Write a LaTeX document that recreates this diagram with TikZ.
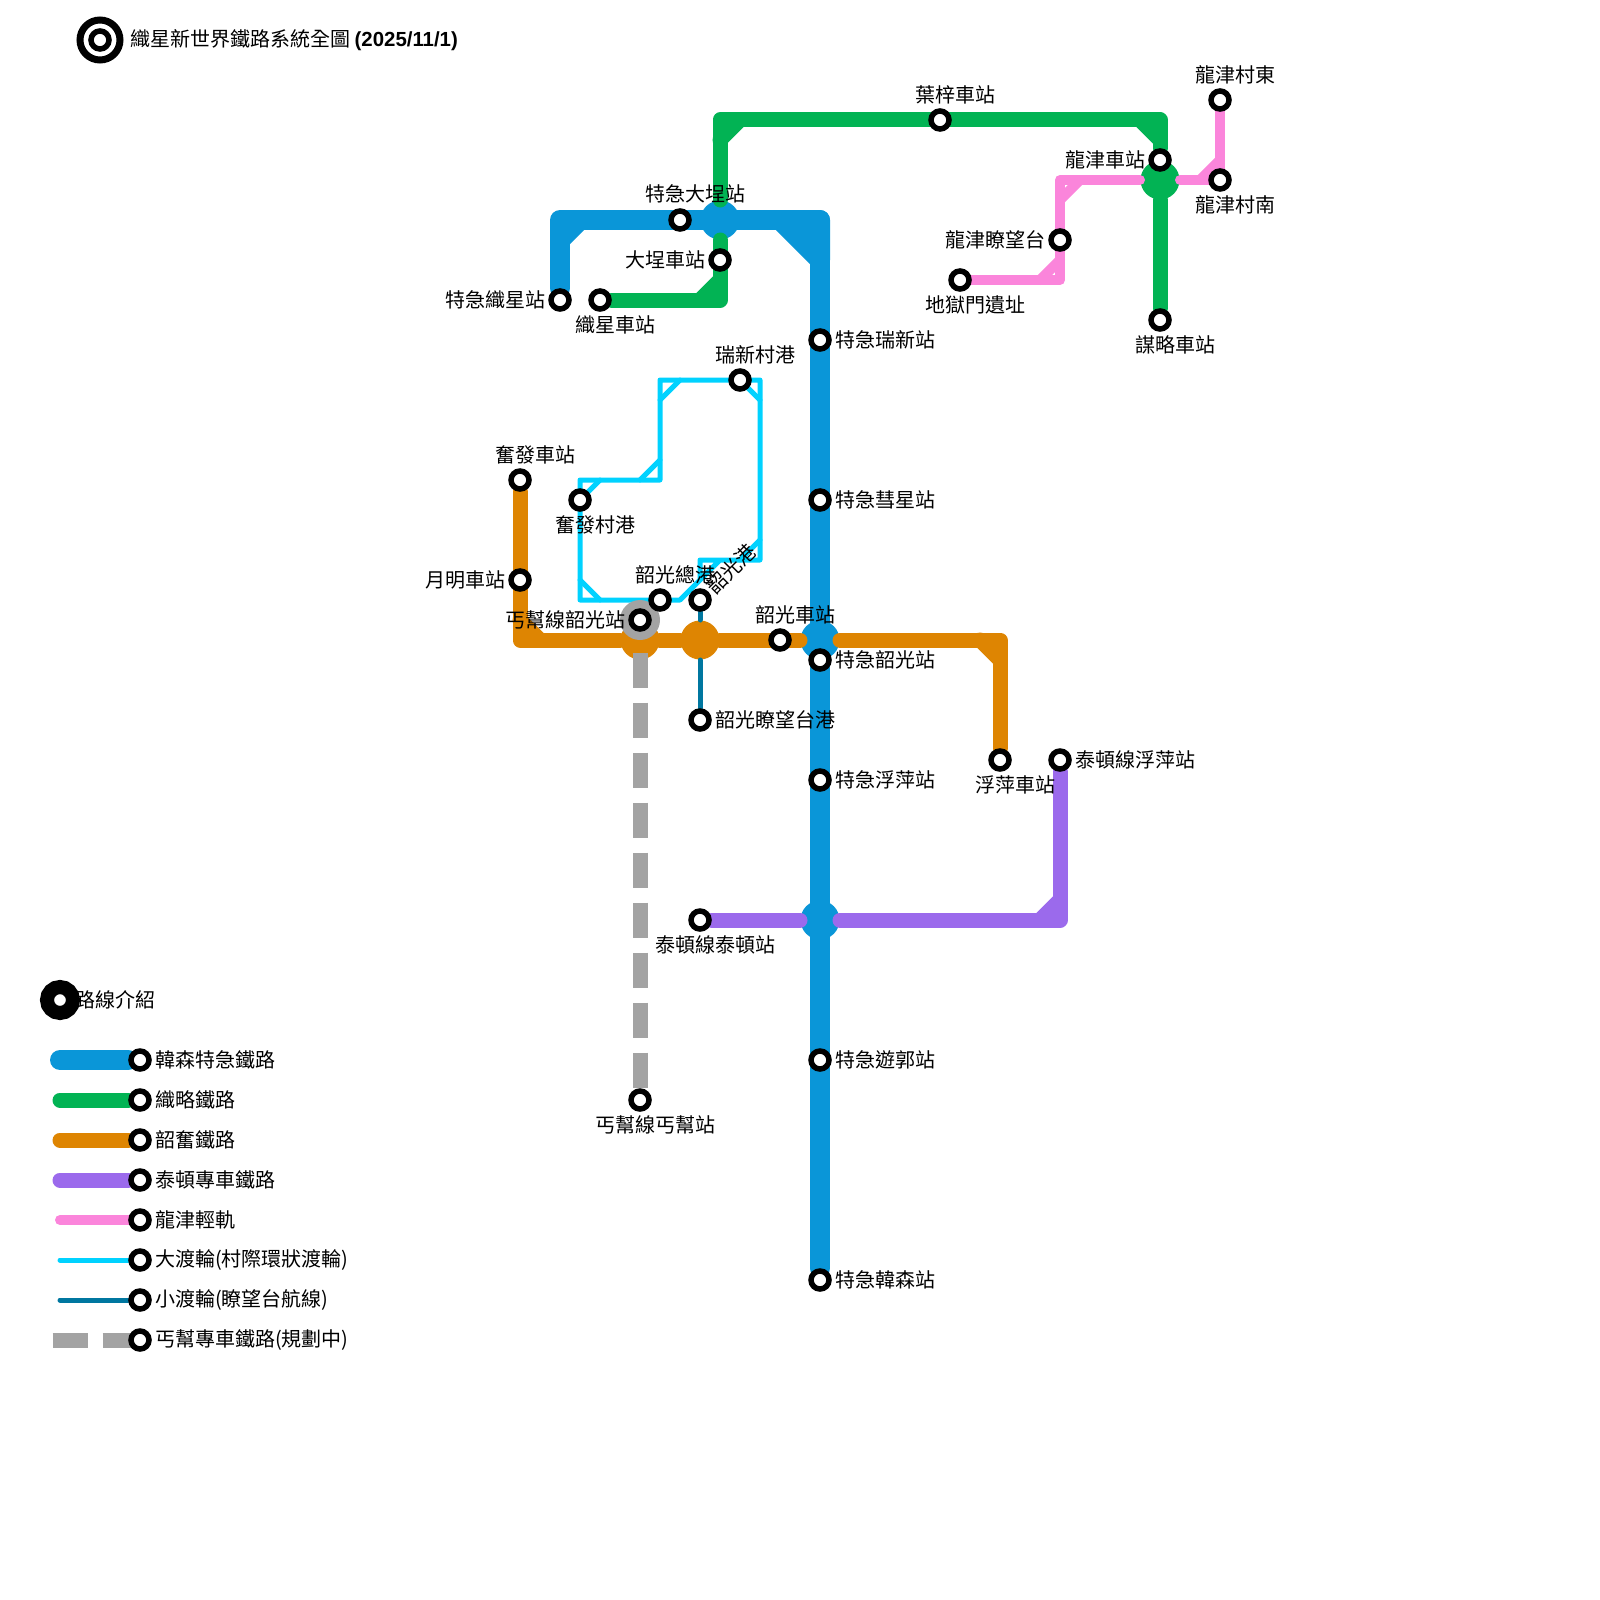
\documentclass[tikz,border=0pt]{standalone}
\usepackage{fontspec}
\setmainfont{Noto Sans CJK TC}
\newfontfamily\latinbold{Liberation Sans}[BoldFont={Liberation Sans Bold}]
\usepackage{xcolor}
\usetikzlibrary{calc,backgrounds}
\definecolor{hansenblue}{HTML}{0A96D8}
\definecolor{luegreen}{HTML}{02B354}
\definecolor{shaoorange}{HTML}{DE8502}
\definecolor{taipurple}{HTML}{9B6AEC}
\definecolor{longpink}{HTML}{FB85DB}
\definecolor{ferrycyan}{HTML}{00D2FF}
\definecolor{ferryteal}{HTML}{0077A0}
\definecolor{plangray}{HTML}{A3A3A3}
\tikzset{
    stn/.style={circle, draw=black, fill=white, line width=5.5pt, minimum size=18pt, inner sep=0pt},
    hub/.style={circle, minimum size=39pt, inner sep=0pt, outer sep=0.5pt},
    txt/.style={inner sep=0pt, font=\fontsize{20pt}{24pt}\selectfont},
    rail/.style={line cap=round, line join=round},
    hansen/.style={rail, hansenblue, line width=20pt},
    lue/.style={rail, luegreen, line width=15pt},
    shao/.style={rail, shaoorange, line width=15pt},
    tai/.style={rail, taipurple, line width=15pt},
    lrt/.style={rail, longpink, line width=10pt},
    bigferry/.style={rail, ferrycyan, line width=5pt},
    smallferry/.style={rail, ferryteal, line width=5pt},
    plan/.style={plangray, line width=15pt, dash pattern=on 35pt off 15pt}
}
\begin{document}
\begin{tikzpicture}[x=1pt,y=-1pt]
    \useasboundingbox (0,0) rectangle (1600,1600);

    % title and legend heading
    \node [circle, draw=black, line width=7pt, minimum size=40pt, inner sep=0pt] (titleouter) at (100,40) {};
    \node [stn] (titlestn) at (100,40) {};
    \node [txt, anchor=west] (titletxt) at (130,40) {織星新世界鐵路系統全圖 {\fontsize{20.4pt}{24pt}\selectfont\latinbold\bfseries (2025/11/1)}};
    \node [txt, anchor=west] (legendtxt) at (75,1000) {路線介紹};
    \node [circle, draw=black, fill=white, line width=14pt, minimum size=26pt, inner sep=0pt] (legendstn) at (60,1000) {};

    % express stations
    \node [stn] (tjzx) at (560,300) {};
    \node [stn] (tjdc) at (680,220) {};
    \node [stn] (tjrx) at (820,340) {};
    \node [stn] (tjhx) at (820,500) {};
    \node [stn] (tjsg) at (820,660) {};
    \node [stn] (tjfp) at (820,780) {};
    \node [stn] (tjyg) at (820,1060) {};
    \node [stn] (tjhs) at (820,1280) {};
    \node [txt, left] (tjzxtxt) at (545.5,300) {特急織星站};
    \node [txt] (tjdctxt) at (695,194) {特急大埕站};
    \node [txt, right] (tjrxtxt) at (835,340) {特急瑞新站};
    \node [txt, right] (tjhxtxt) at (835,500) {特急彗星站};
    \node [txt, right] (tjsgtxt) at (835,660) {特急韶光站};
    \node [txt, right] (tjfptxt) at (835,780) {特急浮萍站};
    \node [txt, right] (tjygtxt) at (835,1060) {特急遊郭站};
    \node [txt, right] (tjhstxt) at (835,1280) {特急韓森站};

    % green stations
    \node [stn] (zxcz) at (600,300) {};
    \node [stn] (dccz) at (720,260) {};
    \node [stn] (yzcz) at (940,120) {};
    \node [stn] (ljcz) at (1160,160) {};
    \node [stn] (mlcz) at (1160,320) {};
    \node [txt] (zxcztxt) at (615,324.5) {織星車站};
    \node [txt, left] (dccztxt) at (706,260) {大埕車站};
    \node [txt] (yzcztxt) at (955,94.5) {葉梓車站};
    \node [txt, left] (ljcztxt) at (1146,160) {龍津車站};
    \node [txt] (mlcztxt) at (1175,344.5) {謀略車站};

    % orange stations
    \node [stn] (ffcz) at (520,480) {};
    \node [stn] (ymcz) at (520,580) {};
    \node [stn] (sgcz) at (780,640) {};
    \node [stn] (fpcz) at (1000,760) {};
    \node [txt] (ffcztxt) at (535,454.5) {奮發車站};
    \node [txt, left] (ymcztxt) at (506,580) {月明車站};
    \node [txt] (sgcztxt) at (795,614.5) {韶光車站};
    \node [txt] (fpcztxt) at (1015,784.5) {浮萍車站};

    % purple and planned stations
    \node [stn] (tdfp) at (1060,760) {};
    \node [stn] (tdtd) at (700,920) {};
    \node [stn] (gbsg) at (640,620) {};
    \node [stn] (gbgb) at (640,1100) {};
    \node [txt, right] (tdfptxt) at (1075,760) {泰頓線浮萍站};
    \node [txt] (tdtdtxt) at (715,944.5) {泰頓線泰頓站};
    \node [txt, left] (gbsgtxt) at (625.5,620) {丐幫線韶光站};
    \node [txt] (gbgbtxt) at (655,1124.5) {丐幫線丐幫站};

    % light rail stations
    \node [stn] (ljcd) at (1220,100) {};
    \node [stn] (ljcn) at (1220,180) {};
    \node [stn] (ljlw) at (1060,240) {};
    \node [stn] (dymz) at (960,280) {};
    \node [txt] (ljcdtxt) at (1235,74.5) {龍津村東};
    \node [txt] (ljcntxt) at (1235,204.5) {龍津村南};
    \node [txt, left] (ljlwtxt) at (1045.5,240) {龍津瞭望台};
    \node [txt] (dymztxt) at (975,304.5) {地獄門遺址};

    % ferry ports
    \node [stn] (rxp) at (740,380) {};
    \node [stn] (ffp) at (580,500) {};
    \node [stn] (sgzp) at (660,600) {};
    \node [stn] (sgp) at (700,600) {};
    \node [stn] (sglw) at (700,720) {};
    \node [txt] (rxptxt) at (755,354.5) {瑞新村港};
    \node [txt] (ffptxt) at (595,524.5) {奮發村港};
    \node [txt] (sgzptxt) at (675,574.5) {韶光總港};
    \node [txt, rotate=45] (sgptxt) at (731.5,569) {韶光港};
    \node [txt, right] (sglwtxt) at (715,720) {韶光瞭望台港};

    % legend stations
    \node [stn] (leghs) at (140,1060) {};
    \node [stn] (leglue) at (140,1100) {};
    \node [stn] (legshao) at (140,1140) {};
    \node [stn] (legtai) at (140,1180) {};
    \node [stn] (leglrt) at (140,1220) {};
    \node [stn] (legbig) at (140,1260) {};
    \node [stn] (legsmall) at (140,1300) {};
    \node [stn] (leggb) at (140,1340) {};
    \node [txt, right] (leghstxt) at (155,1060) {韓森特急鐵路};
    \node [txt, right] (leglutxt) at (155,1100) {織略鐵路};
    \node [txt, right] (legshtxt) at (155,1140) {韶奮鐵路};
    \node [txt, right] (legtatxt) at (155,1180) {泰頓專車鐵路};
    \node [txt, right] (leglrtxt) at (155,1220) {龍津輕軌};
    \node [txt, right] (legbgtxt) at (155,1260) {大渡輪(村際環狀渡輪)};
    \node [txt, right] (legsmtxt) at (155,1300) {小渡輪(瞭望台航線)};
    \node [txt, right] (leggbtxt) at (155,1340) {丐幫專車鐵路(規劃中)};

    % corners
    \coordinate (hs1) at (560,220);
    \coordinate (hs2) at (820,220);
    \coordinate (lu1) at (720,300);
    \coordinate (lu2) at (720,120);
    \coordinate (lu3) at (1160,120);
    \coordinate (sh1) at (520,640);
    \coordinate (sh2) at (1000,640);
    \coordinate (ta1) at (1060,920);
    \coordinate (lr1) at (1060,280);
    \coordinate (lr2) at (1060,180);
    \coordinate (lr3) at (1220,180);
    \coordinate (bf1) at (580,600);
    \coordinate (bf2) at (580,480);
    \coordinate (bf3) at (660,480);
    \coordinate (bf4) at (660,380);
    \coordinate (bf5) at (760,380);
    \coordinate (bf6) at (760,560);
    \coordinate (bf7) at (700,560);
    \coordinate (bf8) at (680,600);
    \coordinate (bf9) at (700,580);
    \coordinate (bf10) at (720,560);
    \coordinate (gbstart) at (640,652.5);

    \begin{scope}[on background layer]
        % express line
        \draw [hansen] (tjzx) -- (hs1) -- (hs2) -- (tjhs);
        \draw [hansen] ($(hs1)+(0,20)$) -- ($(hs1)+(20,0)$);
        \draw [hansen, fill=hansenblue] ($(hs2)+(-40,0)$) -- ($(hs2)+(0,40)$) -- (hs2) -- cycle;
        \node [hub, fill=hansenblue] (hubdc) at (720,220) {};
        \node [hub, fill=hansenblue] (hubsg) at (820,640) {};
        \node [hub, fill=hansenblue] (hubtd) at (820,920) {};

        % green line
        \draw [lue] (zxcz) -- (lu1) -- (hubdc);
        \draw [lue] (hubdc) -- (lu2) -- (lu3) -- (ljcz);
        \draw [lue] ($(lu1)+(-20,0)$) -- ($(lu1)+(0,-20)$);
        \draw [lue] ($(lu2)+(0,20)$) -- ($(lu2)+(20,0)$);
        \draw [lue] ($(lu3)+(-20,0)$) -- ($(lu3)+(0,20)$);
        \node [hub, fill=luegreen] (hublj) at (1160,180) {};
        \draw [lue] (hublj) -- (mlcz);

        % orange line
        \node [hub, fill=shaoorange] (hubgb) at (640,640) {};
        \node [hub, fill=shaoorange] (hubgk) at (700,640) {};
        \draw [shao] (ffcz) -- (sh1) -- (hubgb);
        \draw [shao] (hubgb) -- (hubgk);
        \draw [shao] (hubgk) -- (hubsg);
        \draw [shao] (hubsg) -- (sh2) -- (fpcz);
        \draw [shao] ($(sh1)+(0,-20)$) -- ($(sh1)+(20,0)$);
        \draw [shao] ($(sh2)+(-20,0)$) -- ($(sh2)+(0,20)$);

        % purple line
        \draw [tai] (tdtd) -- (hubtd);
        \draw [tai] (hubtd) -- (ta1) -- (tdfp);
        \draw [tai] ($(ta1)+(-20,0)$) -- ($(ta1)+(0,-20)$);

        % light rail
        \draw [lrt] (dymz) -- (lr1) -- (lr2) -- (hublj);
        \draw [lrt] (hublj) -- (lr3) -- (ljcd);
        \draw [lrt] ($(lr1)+(-20,0)$) -- ($(lr1)+(0,-20)$);
        \draw [lrt] ($(lr2)+(0,20)$) -- ($(lr2)+(20,0)$);
        \draw [lrt] ($(lr3)+(-20,0)$) -- ($(lr3)+(0,-20)$);

        % big ferry
        \draw [bigferry] (bf9) -- (bf7) -- (bf6) -- (bf5) -- (bf4) -- (bf3) -- (bf2) -- (bf1) -- (bf8) -- (bf10);
        \draw [bigferry] ($(bf1)+(0,-20)$) -- ($(bf1)+(20,0)$);
        \draw [bigferry] ($(bf2)+(0,20)$) -- ($(bf2)+(20,0)$);
        \draw [bigferry] ($(bf3)+(-20,0)$) -- ($(bf3)+(0,-20)$);
        \draw [bigferry] ($(bf4)+(0,20)$) -- ($(bf4)+(20,0)$);
        \draw [bigferry] ($(bf5)+(-20,0)$) -- ($(bf5)+(0,20)$);
        \draw [bigferry] ($(bf6)+(-20,0)$) -- ($(bf6)+(0,-20)$);

        % small ferry
        \draw [smallferry] (sgp) -- (hubgk);
        \draw [smallferry] (hubgk) -- (sglw);

        % planned line
        \node [hub, fill=plangray, minimum size=40pt, outer sep=0pt] (hubgray) at (640,620) {};
        \draw [plan] (gbstart) -- (gbgb);

        % legend lines
        \coordinate (lega) at (60,1060);
        \coordinate (legb) at (60,1100);
        \coordinate (legc) at (60,1140);
        \coordinate (legd) at (60,1180);
        \coordinate (lege) at (60,1220);
        \coordinate (legf) at (60,1260);
        \coordinate (legg) at (60,1300);
        \coordinate (legh) at (52.5,1340);
        \draw [hansen] (lega) -- (leghs);
        \draw [lue] (legb) -- (leglue);
        \draw [shao] (legc) -- (legshao);
        \draw [tai] (legd) -- (legtai);
        \draw [lrt] (lege) -- (leglrt);
        \draw [bigferry] (legf) -- (legbig);
        \draw [smallferry] (legg) -- (legsmall);
        \draw [plan] (legh) -- (leggb.center);
    \end{scope}
\end{tikzpicture}
\end{document}
